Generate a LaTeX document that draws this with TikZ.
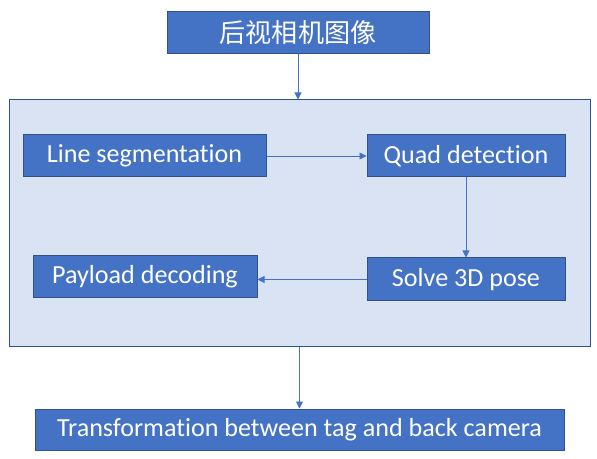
\documentclass[tikz,border=0pt]{standalone}
\usepackage{fontspec}
\setmainfont{Carlito}[Ligatures=NoCommon]
\newfontfamily\cjk{Noto Sans CJK SC}
\usetikzlibrary{positioning, arrows.meta}

\definecolor{boxblue}{HTML}{4472C4}
\definecolor{boxedge}{HTML}{2F528F}
\definecolor{panel}{HTML}{DAE3F3}

\tikzset{
  stage/.style={draw=boxedge, fill=boxblue, line width=1pt, text=white,
    inner sep=0pt, font=\fontsize{26.1}{30}\selectfont},
  flow/.style={-{Triangle[length=7pt,width=7pt]}, draw=boxblue, line width=0.9pt}
}

\begin{document}
\begin{tikzpicture}[x=1pt, y=1pt]
\useasboundingbox (0,0) rectangle (597,458);

% outer panel
\node[draw=boxedge, fill=panel, line width=1pt, minimum width=581pt, minimum height=247pt] (panel) at (299.5,234.5) {};

\node[stage, minimum width=262pt, minimum height=42pt] (cam) at (298,425) {\cjk 后视相机图像};
\node[stage, minimum width=243pt, minimum height=42pt] (lineseg) at (144.5,302) {Line segmentation};
\node[stage, minimum width=198pt, minimum height=42pt] (quad) at (466,302) {Quad detection};
\node[stage, minimum width=198pt, minimum height=43pt] (pose) at (466,178.5) {Solve 3D pose};
\node[stage, minimum width=224pt, minimum height=42pt] (payload) at (145,181) {Payload decoding};
\node[stage, minimum width=529pt, minimum height=41pt] (result) at (299.5,28.5) {Transformation between tag and back camera};

\draw[flow] (cam.south) -- (cam.south |- panel.north);
\draw[flow] (lineseg.east) -- (quad.west);
\draw[flow] (quad.south) -- (pose.north);
\draw[flow] (pose.west) -- (pose.west -| payload.east);
\draw[flow] (panel.south) -- (result.north);
\end{tikzpicture}
\end{document}
